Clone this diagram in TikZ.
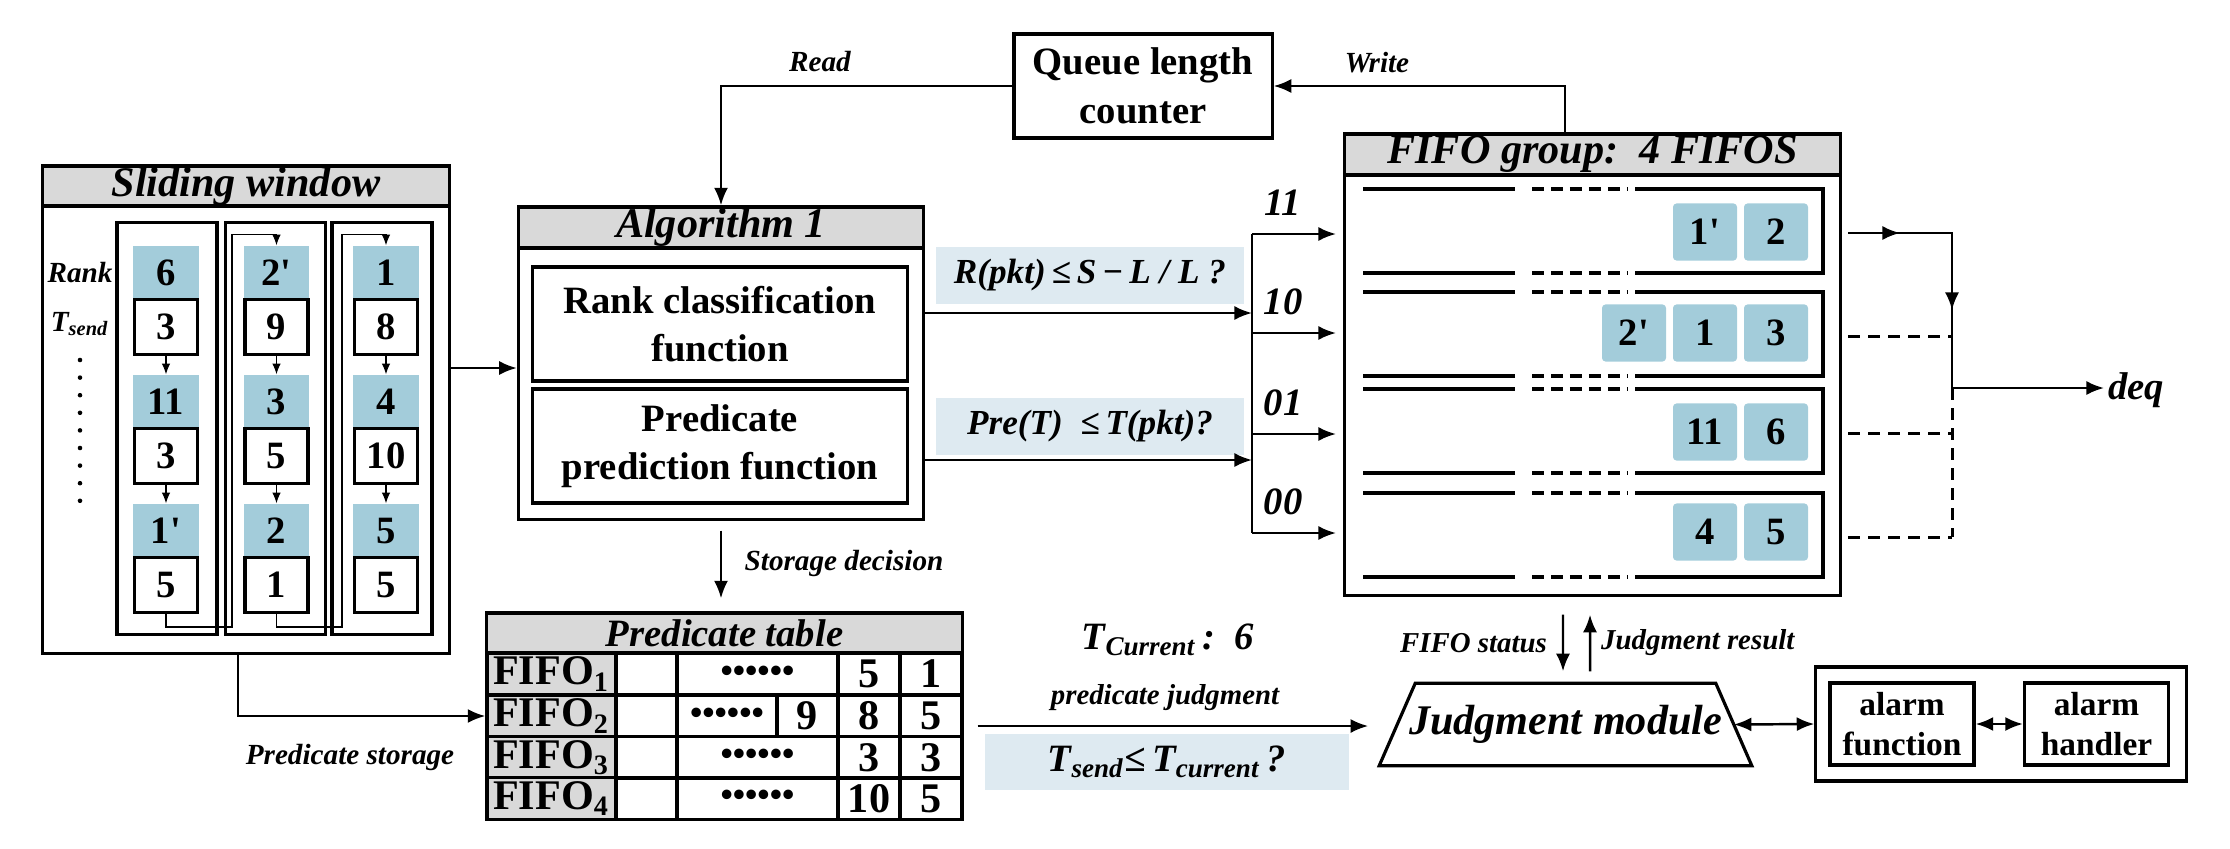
\documentclass[tikz,border=0pt]{standalone}
\usepackage{fontspec}
\setmainfont{Liberation Serif}
\usetikzlibrary{arrows.meta}
\definecolor{pktblue}{RGB}{163,204,218}
\definecolor{condblue}{RGB}{222,234,241}
\definecolor{headgray}{RGB}{217,217,217}
\newcommand{\fs}[2]{\fontsize{#1}{#2}\selectfont}
\newcommand{\pr}{\textquotesingle}

\begin{document}
\begin{tikzpicture}[x=0.01cm,y=-0.01cm,
box/.style={draw,line width=0.9pt,inner sep=0pt,align=center},
head/.style={box,fill=headgray,font=\fs{12}{14}\bfseries\itshape},
fnbox/.style={box,minimum width=3.74cm,minimum height=1.14cm,font=\fs{11}{13.8}\bfseries},
pkt/.style={fill=pktblue,inner sep=0pt,minimum width=0.65cm,minimum height=0.54cm,font=\fs{11}{13}\bfseries},
cell/.style={draw,fill=white,line width=1.1pt,inner sep=0pt,minimum width=0.63cm,minimum height=0.55cm,font=\fs{11}{13}\bfseries},
qpkt/.style={fill=pktblue,rounded corners=1pt,inner sep=0pt,minimum width=0.64cm,minimum height=0.57cm,font=\fs{11}{13}\bfseries},
cond/.style={fill=condblue,inner sep=0pt,minimum width=3.08cm,minimum height=0.57cm,font=\fs{10}{12}\bfseries\itshape},
tcell/.style={draw,line width=0.9pt,inner sep=0pt,minimum height=0.415cm,font=\fs{12}{14}\bfseries},
abox/.style={box,minimum width=1.44cm,minimum height=0.82cm,font=\fs{9.5}{11.5}\bfseries},
small/.style={inner sep=1pt,font=\fs{8.3}{10}\bfseries\itshape},
mid/.style={inner sep=1pt,font=\fs{8.2}{10}\bfseries\itshape},
big/.style={inner sep=1pt,font=\fs{11}{13}\bfseries\itshape},
line/.style={line width=0.7pt},
dashline/.style={line width=0.85pt,dash pattern=on 3.4pt off 2.3pt},
arr/.style={line,-{Latex[length=5pt,width=4pt]}},
dbl/.style={line,{Latex[length=5pt,width=4pt]}-{Latex[length=5pt,width=4pt]}},
link/.style={line width=0.3pt,-{Latex[length=3pt,width=2.4pt]}},
chan/.style={line width=0.9pt}]
\useasboundingbox (0,0) rectangle (2230,848);

% sliding window
\node[head,minimum width=4.06cm,minimum height=0.40cm] (swhead) at (246,186) {Sliding window};
\node[box,minimum width=4.06cm,minimum height=4.47cm] (swbody) at (246,429.5) {};
\foreach \c/\x in {1/167,2/275.5,3/382}
  \node[box,minimum width=1.0cm,minimum height=4.11cm] (col\c) at (\x,428.5) {};
\foreach \c/\x/\rs/\ts in {1/166/{6,11,1\pr}/{3,3,5},2/276.5/{2\pr,3,2}/{9,5,1},3/386/{1,4,5}/{8,10,5}}{
  \foreach \rk [count=\i] in \rs
    \node[pkt] (r\c\i) at (\x,{144+129*\i}) {\rk};
  \foreach \tk [count=\i] in \ts
    \node[cell] (t\c\i) at (\x,{198+129*\i}) {\tk};
  \foreach \i/\j in {1/2,2/3}
    \draw[link] (t\c\i.south) -- (r\c\j.north);
}
\draw[link] (t13.south) |- (232,627) |- ([yshift=0.11cm]r21.north) -- (r21.north);
\draw[link] (t23.south) |- (342,627) |- ([yshift=0.11cm]r31.north) -- (r31.north);
\node[small] (rank) at (80,273) {Rank};
\node[small] (tsend) at (80,324) {T\textsubscript{send}};
\foreach \k in {0,...,8}
  \fill (80,{360+17.6*\k}) circle[radius=0.65pt];

% algorithm 1
\node[head,minimum width=4.05cm,minimum height=0.41cm] (alghead) at (721,227.5) {Algorithm 1};
\node[box,minimum width=4.05cm,minimum height=2.71cm] (algbody) at (721,383.5) {};
\node[fnbox] (rankfn) at (720,324) {Rank classification\\function};
\node[fnbox] (predfn) at (720,446) {Predicate\\prediction function};
\draw[arr] (swbody.east |- 0,368) -- (algbody.west |- 0,368);

% queue length counter
\node[fnbox,minimum width=2.58cm,minimum height=1.04cm] (qlc) at (1143,86) {Queue length\\counter};
\draw[arr] (qlc.west) -| (alghead.north);
\node[small] (readlbl) at (820,62) {Read};

% FIFO group
\node[head,minimum width=4.95cm,minimum height=0.41cm] (fifohead) at (1592.5,154.5) {FIFO group:\ \ 4 FIFOS};
\node[box,minimum width=4.95cm,minimum height=4.20cm] (fifobody) at (1592.5,385) {};
\draw[arr] ([xshift=-0.275cm]fifohead.north) |- (qlc.east);
\node[small] (writelbl) at (1377,63) {Write};
\foreach \t/\b in {189/273,292/376,389/473,493/577}{
  \draw[chan] (1363,\t) -- (1515,\t) (1635,\t) -- (1823,\t) -- (1823,\b) -- (1635,\b) (1515,\b) -- (1363,\b);
  \draw[chan,dash pattern=on 3.4pt off 2pt] (1532,\t) -- (1627,\t) (1532,\b) -- (1627,\b);
}
\foreach \n/\x/\y/\v in {p11/1705/232/1\pr,p12/1776/232/2,p21/1634/333/2\pr,p22/1705/333/1,p23/1776/333/3,
                        p31/1705/432/11,p32/1776/432/6,p41/1705/532/4,p42/1776/532/5}
  \node[qpkt] (\n) at (\x,\y) {\v};

% conditions and FIFO select
\node[cond] (cond1) at (1090,275.5) {R(pkt)\,≤\,S\,−\,L / L ?};
\node[cond] (cond2) at (1090,426.5) {Pre(T)\ \ ≤\,T(pkt)?};
\coordinate (bustop) at (1252,234);
\coordinate (busbot) at (1252,533);
\draw[line] (bustop) -- (busbot);
\draw[arr] (algbody.east |- 0,313) -- (bustop |- 0,313);
\draw[arr] (algbody.east |- 0,460) -- (bustop |- 0,460);
\foreach \y/\l [count=\i] in {234/11,333/10,434/01,533/00}{
  \coordinate (in\i) at (1336,\y);
  \draw[arr] (bustop |- in\i) -- (in\i);
  \node[big] (code\i) at (1283,{\y-31}) {\l};
}

% dequeue
\coordinate (join) at (1952,388);
\node[big,anchor=west] (deq) at (2104,390) {deq};
\draw[arr] (1848,233) -- (1900,233);
\draw[arr] (1896,233) -| (join |- 0,310);
\draw[line] (join |- 0,300) -- (join);
\foreach \y in {336,433,537}
  \draw[dashline] (1848,\y) -- (join |- 0,\y);
\draw[dashline] (join) -- (join |- 0,537);
\draw[arr] (join) -- (deq.west |- join);

% predicate table
\node[head,minimum width=4.75cm,minimum height=0.40cm,font=\fs{11}{13}\bfseries\itshape] (pthead) at (724.5,633) {Predicate table};
\draw[arr] ([yshift=-0.1cm]algbody.south) -- ([yshift=0.13cm]algbody.south |- pthead.north);
\node[small] (storelbl) at (844,563) {Storage decision};
\foreach \i/\y/\a/\b in {1/674/5/1,2/716/8/5,3/757.5/3/3,4/798.5/10/5}{
  \node[tcell,fill=headgray,minimum width=1.29cm] (fifo\i) at (551.5,\y) {FIFO\textsubscript{\i}};
  \node[tcell,minimum width=0.61cm] (e\i) at (646.5,\y) {};
  \node[tcell,minimum width=0.62cm] (a\i) at (869,\y) {\a};
  \node[tcell,minimum width=0.62cm] (b\i) at (931,\y) {\b};
}
\foreach \i in {1,3,4}
  \node[tcell,minimum width=1.61cm,font=\fs{10}{12}\bfseries] (d\i) at (fifo\i -| 757.5,0) {••••••};
\node[tcell,minimum width=1.00cm,font=\fs{10}{12}\bfseries] (d2) at (727,716) {••••••};
\node[tcell,minimum width=0.61cm] (n2) at (807.5,716) {9};
\draw[arr] ([xshift=-0.08cm]swbody.south) |- (fifo2.west);
\node[small] (pstorelbl) at (350,757) {Predicate storage};

% judgment
\node[big] (tcur) at (1168,640) {T\textsubscript{Current}\,:\ \ 6};
\node[mid] (pjlbl) at (1165,698) {predicate judgment};
\node[cond,minimum width=3.64cm,minimum height=0.56cm,font=\fs{11}{13}\bfseries\itshape] (cond3) at (1167,762) {T\textsubscript{send}≤\,T\textsubscript{current}\,?};
\node[inner sep=0pt,minimum width=3.71cm,minimum height=0.81cm,font=\fs{12}{14}\bfseries\itshape] (judge) at (1565.5,724.5) {Judgment module};
\draw[line width=0.9pt] ([xshift=0.36cm]judge.north west) -- ([xshift=-0.36cm]judge.north east)
  -- (judge.south east) -- (judge.south west) -- cycle;
\draw[arr] ([xshift=0.14cm]b2.east |- 0,726) -- ([xshift=-0.11cm]judge.west |- 0,726);
\draw[arr] ([xshift=-0.295cm,yshift=-0.18cm]fifobody.south) -- ([xshift=-0.025cm,yshift=0.12cm]judge.north);
\draw[arr] ([xshift=0.245cm,yshift=0.12cm]judge.north) -- ([xshift=-0.025cm,yshift=-0.18cm]fifobody.south);
\node[mid,anchor=east] (fslbl) at (1551,643) {FIFO status};
\node[mid,anchor=west] (jrlbl) at (1597,643) {Judgment result};

% alarm
\node[box,minimum width=3.70cm,minimum height=1.14cm] (alarmbox) at (2001,724) {};
\node[abox] (alarmfn) at (1902,724) {alarm\\function};
\node[abox] (alarmhd) at (2096.5,724) {alarm\\handler};
\draw[dbl] ([xshift=-0.18cm]judge.east) -- (alarmbox.west);
\draw[dbl] (alarmfn.east) -- (alarmhd.west);
\end{tikzpicture}
\end{document}
